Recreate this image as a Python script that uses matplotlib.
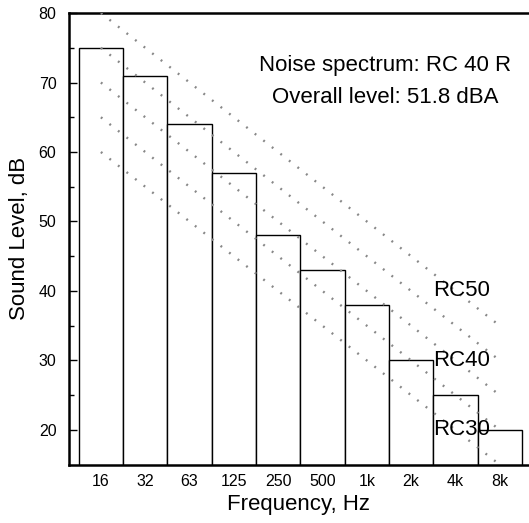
import matplotlib
matplotlib.use("Agg")
import matplotlib.pyplot as plt

plt.rcParams['font.family'] = ['Liberation Sans', 'DejaVu Sans']

# Data
bands = ["16", "32", "63", "125", "250", "500", "1k", "2k", "4k", "8k"]
levels = [75, 71, 64, 57, 48, 43, 38, 30, 25, 20]

# RC reference lines: level at 16 Hz and at 8 kHz (-5 dB/octave)
rc_names = ["RC50", "RC45", "RC40", "RC35", "RC30"]
rc_at_16 = [80, 75, 70, 65, 60]
rc_at_8k = [35, 30, 25, 20, 15]
rc_labels = ["RC50", "RC40", "RC30"]
rc_label_y = [40, 30, 20]

fig = plt.figure(figsize=(5.29, 5.23), dpi=100)
ax = fig.add_axes([0.1304, 0.1115, 0.8696, 0.8636])

x = list(range(len(bands)))
ax.bar(x, levels, width=1.0, bottom=0, color="white", edgecolor="black",
       linewidth=1.0, zorder=2)

for a, b in zip(rc_at_16, rc_at_8k):
    ax.plot([x[0], x[-1]], [a, b], color="#888888", linewidth=1.7,
            linestyle=(0, (0.8, 3.8)), zorder=3)

for name, yv in zip(rc_labels, rc_label_y):
    ax.text(7.5, yv, name, fontsize=16, ha="left", va="center", zorder=4)

ax.text(6.41, 72.5, "Noise spectrum: RC 40 R", fontsize=16, ha="center", va="center")
ax.text(6.41, 67.8, "Overall level: 51.8 dBA", fontsize=16, ha="center", va="center")

ax.set_xlim(-0.72, 9.66)
ax.set_ylim(15, 80)
ax.set_xticks(x)
ax.set_xticklabels(bands)
ax.set_yticks([20, 30, 40, 50, 60, 70, 80])
ax.set_yticks([25, 35, 45, 55, 65, 75], minor=True)
ax.tick_params(axis="both", which="major", direction="in", length=6, width=1,
               labelsize=11.5)
ax.tick_params(axis="x", pad=7)
ax.tick_params(axis="y", pad=9)
ax.tick_params(axis="y", which="minor", direction="in", length=3.5, width=1)

for s in ["left", "bottom", "top"]:
    ax.spines[s].set_linewidth(1.8)
ax.spines["right"].set_visible(False)

ax.set_xlabel("Frequency, Hz", fontsize=16, labelpad=3)
ax.set_ylabel("Sound Level, dB", fontsize=16, labelpad=6)

fig.savefig("out.png", dpi=100)
